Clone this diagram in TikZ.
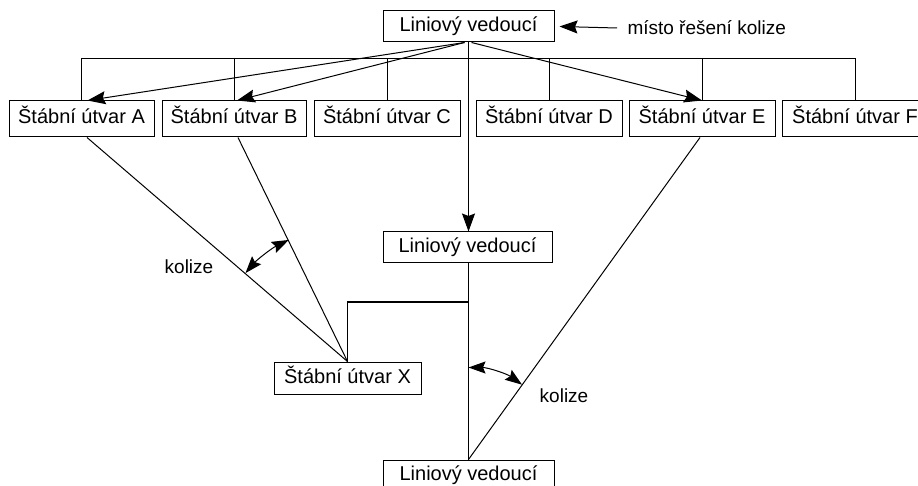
\documentclass[tikz,border=0pt]{standalone}
\usepackage{fontspec}
\setmainfont{Liberation Sans}
\usetikzlibrary{arrows.meta,calc}
\begin{document}
\begin{tikzpicture}[x=1pt,y=-1pt,
  line width=1pt,
  box/.style={draw, line width=1pt, inner sep=0pt,
    font=\fontsize{20}{24}\selectfont, text height=14pt, text depth=4pt},
  staff/.style={box, minimum height=36pt, minimum width=146pt},
  chief/.style={box, minimum height=31pt, minimum width=171pt},
  lbl/.style={font=\fontsize{19}{22}\selectfont, inner sep=0pt},
  tip/.style={-{Stealth[length=18pt,width=13pt,inset=2.5pt]}},
  twotip/.style={{Stealth[length=17pt,width=12pt,inset=2.5pt]}-{Stealth[length=17pt,width=12pt,inset=2.5pt]}}
]
\useasboundingbox (0,0) rectangle (918,486);

% line managers
\node[chief] (top) at (468.5,26.5) {Liniový vedoucí};
\node[chief, minimum width=169pt] (mid) at (467.5,247.5) {Liniový vedoucí};
\node[chief] (bottom) at (468.5,475.5) {Liniový vedoucí};

% staff units
\node[staff, minimum width=145pt] (A) at (81.5,119) {Štábní útvar A};
\node[staff, minimum width=144pt] (B) at (234,119) {Štábní útvar B};
\node[staff] (C) at (387,119) {Štábní útvar C};
\node[staff] (D) at (549,119) {Štábní útvar D};
\node[staff] (E) at (702,119) {Štábní útvar E};
\node[staff] (F) at (855,119) {Štábní útvar F};
\node[box, minimum height=32pt, minimum width=147pt] (X) at (347.5,378) {Štábní útvar X};

% labels
\node[lbl, anchor=west] (note) at (627,28) {místo řešení kolize};
\node[lbl] (k1) at (189,267) {kolize};
\node[lbl] (k2) at (564,396) {kolize};

% bus line of the staff units
\coordinate (bus) at (0,59);
\draw (A.north) -- (A.north |- bus) -- (F.north |- bus) -- (F.north);
\foreach \n in {B,C,D,E} \draw (\n.north) -- (\n.north |- bus);

% trunk of the line organisation
\draw[tip] (top.south) -- (top.south |- mid.north);
\draw (top.south |- mid.south) -- (bottom.north);
\coordinate (elbow) at (0,302);
\draw (X.north) |- (elbow -| bottom.north);

% orders from the top manager
\draw[tip] ([xshift=-4pt]top.south) -- ([xshift=6pt]A.north);
\draw[tip] ([xshift=-4pt]top.south) -- ([xshift=3pt]B.north);
\draw[tip] ([xshift=3pt]top.south) -- ([xshift=0pt]E.north);
\draw[tip] ([xshift=-10pt]note.west) -- ([xshift=5pt]top.east);

% staff influence lines
\draw ([xshift=5.5pt]A.south) -- (X.north);
\draw ([xshift=4pt]B.south) -- (X.north);
\draw ([xshift=-2pt]E.south) -- (bottom.north);

% conflict arcs
\draw[twotip] ([shift={(-139.1:135)}]X.north) arc[start angle=-139.1, end angle=-115.8, radius=135];
\draw[twotip] ([shift={(-90:92)}]bottom.north) arc[start angle=-90, end angle=-54.4, radius=92];
\end{tikzpicture}
\end{document}
